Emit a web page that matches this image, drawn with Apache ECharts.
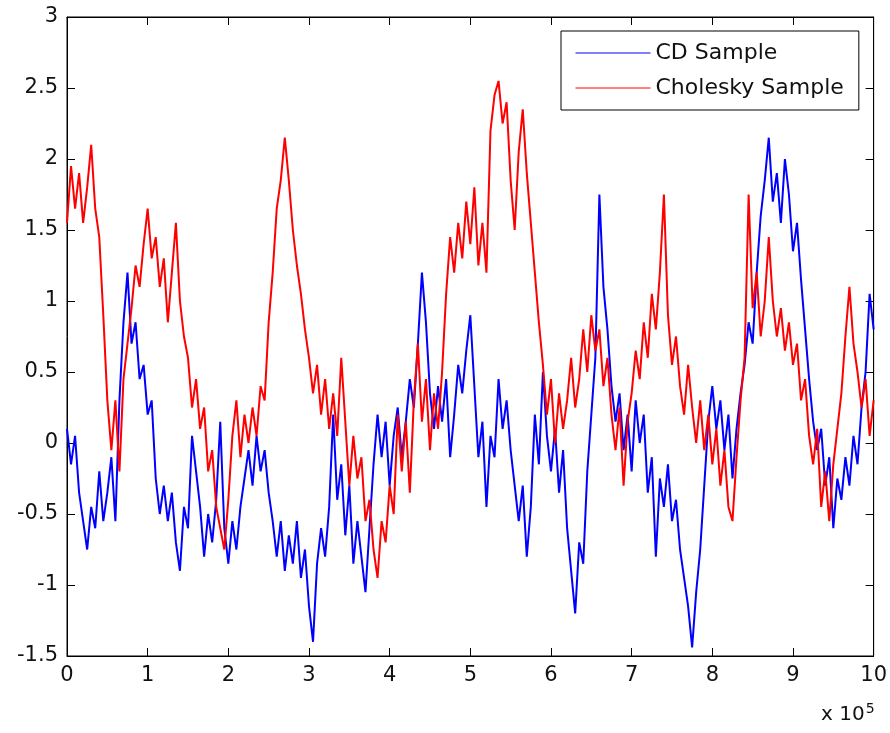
<!DOCTYPE html>
<html>
<head>
<meta charset="utf-8">
<script src="https://cdn.jsdelivr.net/npm/echarts@6/dist/echarts.min.js"></script>
<style>
  html, body { margin: 0; padding: 0; background: #fff; }
  #chart { width: 890px; height: 733px; }
</style>
</head>
<body>
<div id="chart"></div>
<script>
// sample spacing along x (units of 1e5)
var sampleStep = 0.05;

var xTicks = ['0', '1', '2', '3', '4', '5', '6', '7', '8', '9', '10'];
var yTicks = ['-1.5', '-1', '-0.5', '0', '0.5', '1', '1.5', '2', '2.5', '3'];

// CD Sample, every 0.05e5
var cdSample = [
  0.10, -0.15, 0.05, -0.35, -0.55, -0.75, -0.45, -0.60, -0.20, -0.55,
  -0.35, -0.10, -0.55, 0.30, 0.85, 1.20, 0.70, 0.85, 0.45, 0.55,
  0.20, 0.30, -0.25, -0.50, -0.30, -0.55, -0.35, -0.70, -0.90, -0.45,
  -0.60, 0.05, -0.20, -0.45, -0.80, -0.50, -0.70, -0.40, 0.15, -0.60,
  -0.85, -0.55, -0.75, -0.45, -0.25, -0.05, -0.30, 0.05, -0.20, -0.05,
  -0.35, -0.55, -0.80, -0.55, -0.90, -0.65, -0.85, -0.55, -0.95, -0.75,
  -1.15, -1.40, -0.85, -0.60, -0.80, -0.45, 0.20, -0.40, -0.15, -0.65,
  -0.30, -0.85, -0.55, -0.80, -1.05, -0.60, -0.15, 0.20, -0.10, 0.15,
  -0.30, 0.05, 0.25, -0.10, 0.15, 0.45, 0.25, 0.70, 1.20, 0.85,
  0.35, 0.10, 0.40, 0.15, 0.45, -0.10, 0.20, 0.55, 0.35, 0.65,
  0.90, 0.40, -0.10, 0.15, -0.45, 0.05, -0.10, 0.45, 0.10, 0.30,
  -0.05, -0.30, -0.55, -0.30, -0.80, -0.45, 0.20, -0.15, 0.50, 0.05,
  -0.20, 0.10, -0.35, -0.05, -0.60, -0.90, -1.20, -0.70, -0.85, -0.20,
  0.20, 0.60, 1.75, 1.10, 0.80, 0.40, 0.15, 0.35, -0.05, 0.20,
  -0.20, 0.30, 0.00, 0.20, -0.35, -0.10, -0.80, -0.25, -0.45, -0.15,
  -0.55, -0.40, -0.75, -0.95, -1.15, -1.44, -1.05, -0.75, -0.30, 0.15,
  0.40, 0.10, 0.30, -0.05, 0.20, -0.25, 0.10, 0.35, 0.55, 0.85,
  0.70, 1.20, 1.60, 1.85, 2.15, 1.70, 1.90, 1.55, 2.00, 1.75,
  1.35, 1.55, 1.15, 0.80, 0.45, 0.15, -0.05, 0.10, -0.30, -0.10,
  -0.60, -0.25, -0.40, -0.10, -0.30, 0.05, -0.15, 0.25, 0.50, 1.05,
  0.80
];

// Cholesky Sample, every 0.05e5
var choleskySample = [
  1.55, 1.95, 1.65, 1.90, 1.55, 1.80, 2.10, 1.65, 1.45, 0.90,
  0.30, -0.05, 0.30, -0.20, 0.45, 0.70, 0.95, 1.25, 1.10, 1.40,
  1.65, 1.30, 1.45, 1.10, 1.30, 0.85, 1.20, 1.55, 1.00, 0.75,
  0.60, 0.25, 0.45, 0.10, 0.25, -0.20, -0.05, -0.45, -0.60, -0.75,
  -0.40, 0.05, 0.30, -0.10, 0.20, 0.00, 0.25, 0.05, 0.40, 0.30,
  0.85, 1.20, 1.65, 1.85, 2.15, 1.85, 1.50, 1.25, 1.05, 0.80,
  0.60, 0.35, 0.55, 0.20, 0.45, 0.10, 0.35, 0.05, 0.60, 0.15,
  -0.30, 0.05, -0.25, -0.10, -0.55, -0.40, -0.75, -0.95, -0.55, -0.70,
  -0.30, -0.50, 0.20, -0.20, 0.15, -0.35, 0.30, 0.70, 0.15, 0.45,
  -0.05, 0.35, 0.10, 0.50, 1.05, 1.45, 1.20, 1.55, 1.30, 1.70,
  1.40, 1.80, 1.25, 1.55, 1.20, 2.20, 2.45, 2.55, 2.25, 2.40,
  1.85, 1.50, 2.05, 2.35, 1.90, 1.55, 1.20, 0.85, 0.55, 0.20,
  0.45, 0.00, 0.35, 0.10, 0.30, 0.60, 0.25, 0.45, 0.80, 0.50,
  0.90, 0.65, 0.80, 0.40, 0.60, 0.20, -0.05, 0.25, -0.30, 0.15,
  0.35, 0.65, 0.45, 0.85, 0.60, 1.05, 0.80, 1.20, 1.75, 0.90,
  0.55, 0.75, 0.40, 0.20, 0.55, 0.25, 0.00, 0.30, -0.05, 0.20,
  -0.15, 0.10, -0.30, -0.05, -0.45, -0.55, -0.10, 0.30, 0.60, 1.75,
  0.95, 1.20, 0.75, 1.00, 1.45, 1.00, 0.75, 0.95, 0.65, 0.85,
  0.55, 0.70, 0.30, 0.45, 0.05, -0.15, 0.10, -0.45, -0.20, -0.55,
  -0.15, 0.10, 0.35, 0.75, 1.10, 0.70, 0.50, 0.25, 0.45, 0.05,
  0.30
];

function toPoints(values) {
  return values.map(function (v, i) { return [i * sampleStep, v]; });
}

var fontName = 'DejaVu Sans, Liberation Sans, Arial, sans-serif';
var textFont = {color: '#111', fontFamily: fontName, fontSize: 21};

var myChart = echarts.init(document.getElementById('chart'));

var option = {
  animation: false,
  backgroundColor: '#fff',
  grid: {left: 67, right: 12, top: 17, bottom: 77, show: true, borderColor: '#000', borderWidth: 1},
  legend: {
    orient: 'vertical',
    left: 561,
    top: 31,
    padding: [11, 15, 11, 14],
    itemWidth: 75,
    itemHeight: 20,
    itemGap: 13,
    backgroundColor: '#fff',
    borderColor: '#000',
    borderWidth: 1,
    borderRadius: 0,
    itemStyle: {opacity: 0},
    lineStyle: {width: 1},
    textStyle: {color: '#111', fontFamily: fontName, fontSize: 22},
    data: ['CD Sample', 'Cholesky Sample']
  },
  xAxis: [{
    type: 'value',
    min: 0,
    max: 10,
    interval: 1,
    axisLine: {show: true, onZero: false, lineStyle: {color: '#000'}},
    axisTick: {inside: true, length: 8, lineStyle: {color: '#000'}},
    axisLabel: Object.assign({margin: 9, formatter: function (v) { return xTicks[Math.round(v)]; }}, textFont),
    splitLine: {show: false}
  }, {
    type: 'value',
    position: 'top',
    min: 0,
    max: 10,
    interval: 1,
    axisLine: {show: true, onZero: false, lineStyle: {color: '#000'}},
    axisTick: {inside: true, length: 8, lineStyle: {color: '#000'}},
    axisLabel: {show: false},
    splitLine: {show: false}
  }],
  yAxis: [{
    type: 'value',
    min: -1.5,
    max: 3,
    interval: 0.5,
    axisLine: {show: true, onZero: false, lineStyle: {color: '#000'}},
    axisTick: {show: true, inside: true, length: 8, lineStyle: {color: '#000'}},
    axisLabel: Object.assign({margin: 9, formatter: function (v) { return yTicks[Math.round((v + 1.5) * 2)]; }}, textFont),
    splitLine: {show: false}
  }, {
    type: 'value',
    position: 'right',
    min: -1.5,
    max: 3,
    interval: 0.5,
    axisLine: {show: true, onZero: false, lineStyle: {color: '#000'}},
    axisTick: {show: true, inside: true, length: 8, lineStyle: {color: '#000'}},
    axisLabel: {show: false},
    splitLine: {show: false}
  }],
  graphic: [{
    type: 'text',
    left: 821,
    top: 702,
    style: {
      text: 'x 10{sup|5}',
      fill: '#111',
      font: '20px "DejaVu Sans", "Liberation Sans", sans-serif',
      rich: {
        sup: {fontSize: 14, fontFamily: fontName, verticalAlign: 'top', padding: [0, 0, 12, 1]}
      }
    }
  }],
  series: [
    {
      name: 'CD Sample',
      type: 'line',
      symbol: 'none',
      color: '#0000ff',
      lineStyle: {width: 2, color: '#0000ff'},
      data: toPoints(cdSample)
    },
    {
      name: 'Cholesky Sample',
      type: 'line',
      symbol: 'none',
      color: '#ff0000',
      lineStyle: {width: 2, color: '#ff0000'},
      data: toPoints(choleskySample)
    }
  ]
};

myChart.setOption(option);
</script>
</body>
</html>
